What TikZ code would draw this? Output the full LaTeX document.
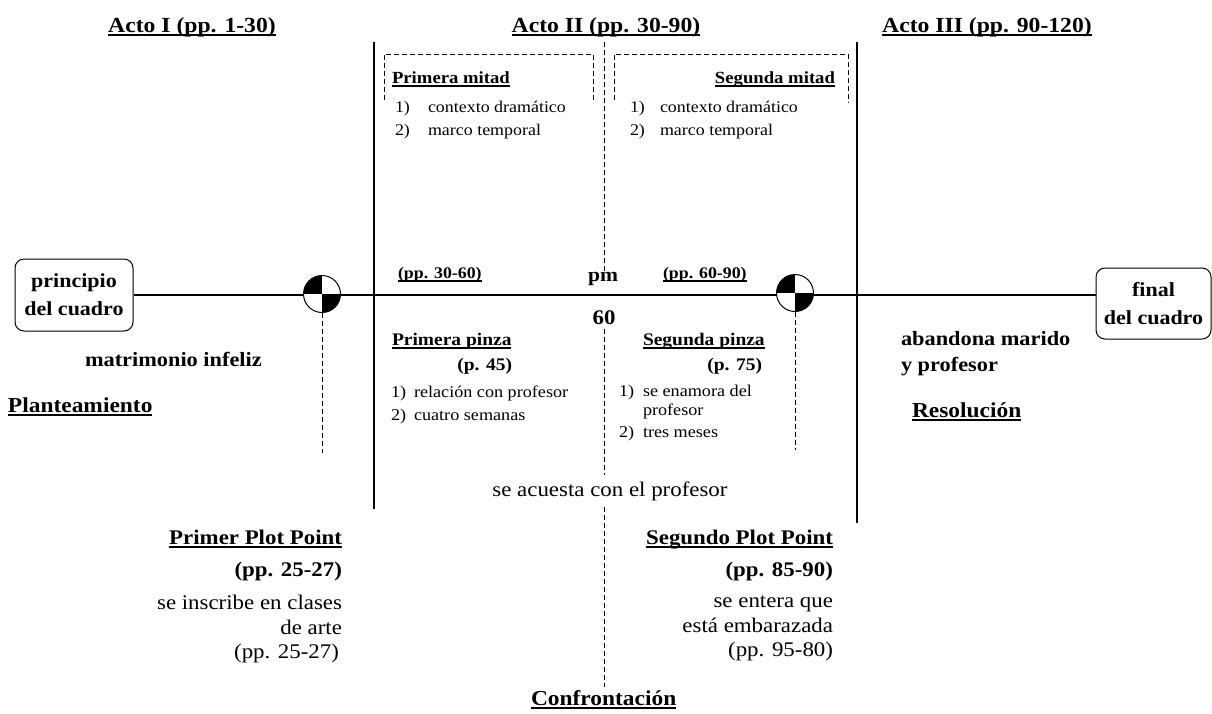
\documentclass[tikz,border=0pt]{standalone}
\usepackage{fontspec}
\setmainfont{Liberation Serif}[FakeStretch=1.1]
\newcommand\ulx[1]{\setbox0=\hbox{#1}\leavevmode\rlap{\rule[-4pt]{\wd0}{1.8pt}}\box0}
\begin{document}
\begin{tikzpicture}[x=1pt,y=-1pt]
\tikzset{
 lbl/.style={inner sep=0pt, outer sep=0pt},
 ttl/.style={lbl, font=\fontsize{21.5}{25}\selectfont\bfseries},
 hd/.style={lbl, font=\fontsize{17}{20}\selectfont\bfseries},
 sm/.style={lbl, font=\fontsize{16.3}{19}\selectfont},
 pg/.style={lbl, font=\fontsize{16.2}{19}\selectfont\bfseries},
 pz/.style={lbl, font=\fontsize{17.7}{21}\selectfont\bfseries},
 pzt/.style={lbl, font=\fontsize{16.5}{19}\selectfont},
 bd/.style={lbl, font=\fontsize{20.3}{24}\selectfont\bfseries},
 sec/.style={lbl, font=\fontsize{21.3}{25}\selectfont\bfseries},
 ppt/.style={lbl, font=\fontsize{20.8}{25}\selectfont\bfseries},
 rg/.style={lbl, font=\fontsize{20.8}{25}\selectfont},
 bx/.style={draw, rounded corners=9pt, line width=1pt, align=center, inner sep=0pt,
   font=\fontsize{20}{28}\selectfont\bfseries},
 dsh/.style={dash pattern=on 5pt off 3pt, line width=1pt},
 solidln/.style={line width=1.3pt},
 quad/.style={circle, draw, fill=white, line width=1pt, minimum size=37pt, inner sep=0pt,
   path picture={\fill[black] (path picture bounding box.center) rectangle (path picture bounding box.north west);
                 \fill[black] (path picture bounding box.center) rectangle (path picture bounding box.south east);}}
}
\fill[white] (0,0) rectangle (1212,713);
\useasboundingbox (0,0) rectangle (1212,713);

% titles
\node[ttl,anchor=base] (a1) at (192,32) {\ulx{Acto I (pp. 1-30)}};
\node[ttl,anchor=base] (a2) at (606,32) {\ulx{Acto II (pp. 30-90)}};
\node[ttl,anchor=base] (a3) at (987,32) {\ulx{Acto III (pp. 90-120)}};

% vertical act dividers
\coordinate (vLt) at (374,42); \coordinate (vLb) at (374,509);
\coordinate (vRt) at (857,42); \coordinate (vRb) at (857,523);
\draw[solidln] (vLt) -- (vLb);
\draw[solidln] (vRt) -- (vRb);

% dashed brackets
\draw[dsh] (384,100) -- (384,54) -- (593,54) -- (593,103);
\draw[dsh] (614,100) -- (614,54) -- (848,54) -- (848,103);

\node[hd,anchor=base west] (m1) at (392,83) {\ulx{Primera mitad}};
\node[sm,anchor=base west] (m1a) at (395,112) {1)};
\node[sm,anchor=base west] (m1b) at (428,112) {contexto dramático};
\node[sm,anchor=base west] (m1c) at (395,135) {2)};
\node[sm,anchor=base west] (m1d) at (428,135) {marco temporal};

\node[hd,anchor=base east] (m2) at (835,83) {\ulx{Segunda mitad}};
\node[sm,anchor=base west] (m2a) at (630,112) {1)};
\node[sm,anchor=base west] (m2b) at (660,112) {contexto dramático};
\node[sm,anchor=base west] (m2c) at (630,135) {2)};
\node[sm,anchor=base west] (m2d) at (660,135) {marco temporal};

% end boxes and main line
\node[bx, minimum width=118pt, minimum height=72pt] (pri) at (74,295) {principio\\del cuadro};
\node[bx, minimum width=115pt, minimum height=71pt] (fin) at (1153.5,303.5) {final\\del cuadro};
\draw[solidln] (pri.east) -- (pri.east -| fin.west);

% plot point markers
\node[quad] (c1) at (322,294) {};
\node[quad] (c2) at (795,293) {};
\coordinate (c1b) at (322,453);
\coordinate (c2b) at (795,450);
\draw[dsh] (c1.south) -- (c1b);
\draw[dsh] (c2.south) -- (c2b);

% midpoint labels
\node[pg,anchor=base west] (p1) at (398,278) {\ulx{(pp. 30-60)}};
\node[bd,anchor=base,font=\fontsize{19.6}{23}\selectfont\bfseries] (pm) at (603,281) {pm};
\node[pg,anchor=base west] (p2) at (663,278) {\ulx{(pp. 60-90)}};
\node[bd,font=\fontsize{20.8}{24}\selectfont\bfseries] (sixty) at (604,318) {60};

% pinch 1
\node[pz,anchor=base west] (z1) at (392,345) {\ulx{Primera pinza}};
\node[pz,anchor=base east] (z1p) at (512,370) {(p. 45)};
\node[pzt,anchor=base west] (z1a) at (391,397) {1)};
\node[pzt,anchor=base west] (z1b) at (414,397) {relación con profesor};
\node[pzt,anchor=base west] (z1c) at (391,420) {2)};
\node[pzt,anchor=base west] (z1d) at (414,420) {cuatro semanas};

% pinch 2
\node[pz,anchor=base west] (z2) at (643,345) {\ulx{Segunda pinza}};
\node[pz,anchor=base east] (z2p) at (762,370) {(p. 75)};
\node[pzt,anchor=base west] (z2a) at (619,396) {1)};
\node[pzt,anchor=base west] (z2b) at (643,396) {se enamora del};
\node[pzt,anchor=base west] (z2c) at (643,415) {profesor};
\node[pzt,anchor=base west] (z2d) at (619,437) {2)};
\node[pzt,anchor=base west] (z2e) at (643,437) {tres meses};

% midpoint event
\node[rg] (acu) at (610,491) {se acuesta con el profesor};

% act I side
\node[bd,anchor=west] (mat) at (85,359) {matrimonio infeliz};
\node[sec,anchor=base west] (plan) at (8,412) {\ulx{Planteamiento}};

% act III side
\node[bd,anchor=base west] (ab1) at (901,345) {abandona marido};
\node[bd,anchor=base west] (ab2) at (901,371) {y profesor};
\node[sec,anchor=base west] (res) at (912,417) {\ulx{Resolución}};

% first plot point
\node[ppt,anchor=base east] (pp1) at (342,544) {\ulx{Primer Plot Point}};
\node[ppt,anchor=base east] (pp1p) at (342,576) {(pp. 25-27)};
\node[rg,anchor=base east] (pp1a) at (342,609) {se inscribe en clases};
\node[rg,anchor=base east] (pp1b) at (342,634) {de arte};
\node[rg,anchor=base east] (pp1c) at (339,658) {(pp. 25-27)};

% second plot point
\node[ppt,anchor=base east] (pp2) at (833,544) {\ulx{Segundo Plot Point}};
\node[ppt,anchor=base east] (pp2p) at (833,576) {(pp. 85-90)};
\node[rg,anchor=base east] (pp2a) at (833,607) {se entera que};
\node[rg,anchor=base east] (pp2b) at (833,632) {está embarazada};
\node[rg,anchor=base east] (pp2c) at (833,656) {(pp. 95-80)};

% confrontation
\node[sec,anchor=base west] (conf) at (531,705) {\ulx{Confrontación}};

% central dashed midpoint line
\coordinate (ctop) at (604,42);
\coordinate (cbot) at (604,687);
\draw[dsh] (ctop) -- (ctop |- pm.north) ++(0,-4) coordinate (pmt);
\draw[dsh] ([yshift=-4pt]sixty.south) -- ([yshift=6pt]sixty.south |- acu.north);
\draw[dsh] ([yshift=-6pt]sixty.south |- acu.south) -- (cbot);
\end{tikzpicture}
\end{document}
